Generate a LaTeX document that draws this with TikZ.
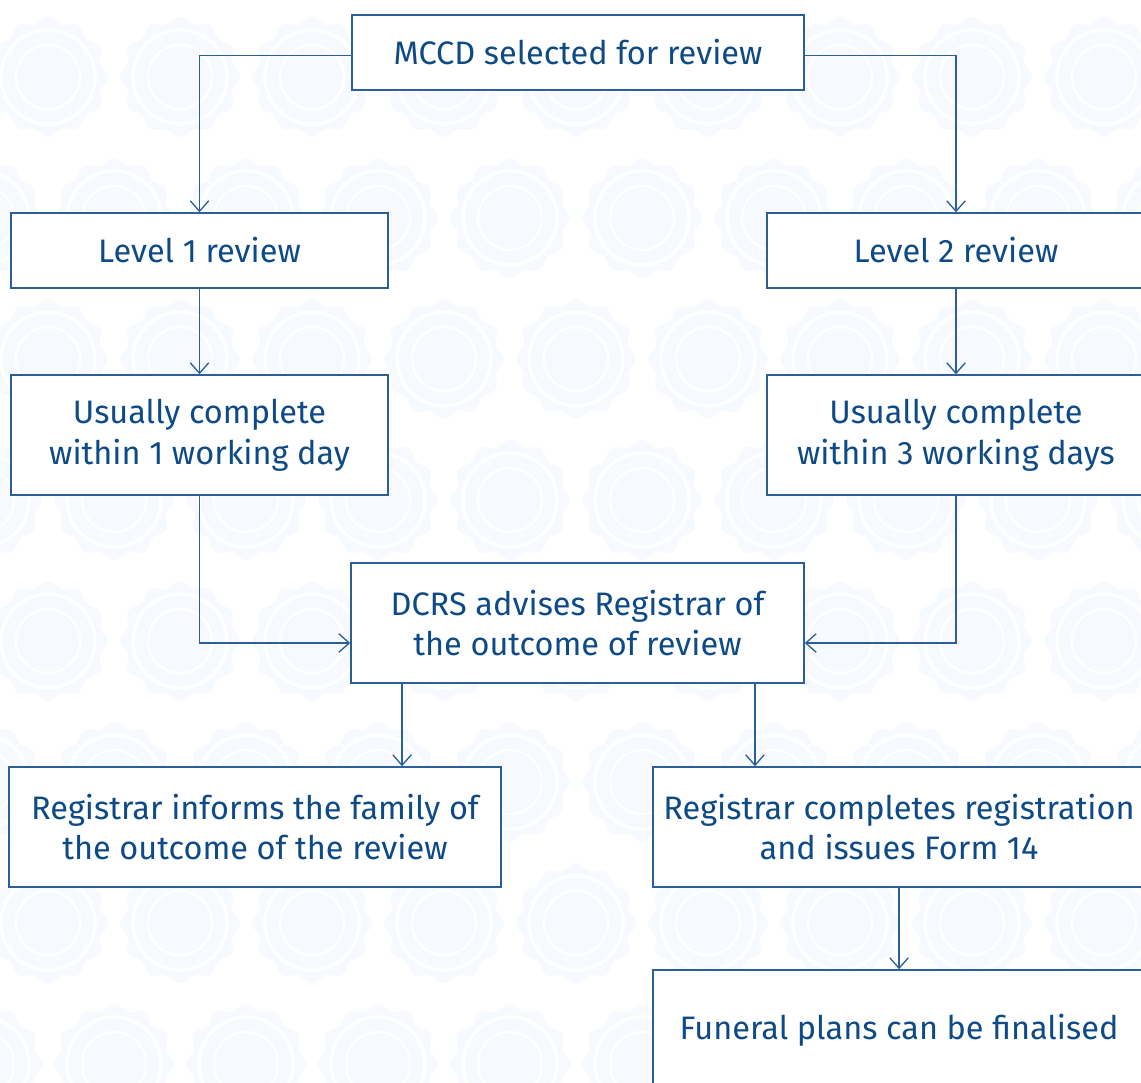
\documentclass[tikz,border=0pt]{standalone}
\usepackage{fontspec}
\setmainfont{Fira Sans}
\usepackage{xcolor}
\usepackage{tikz}
\usetikzlibrary{arrows.meta}
\definecolor{textblue}{HTML}{0E4A86}
\definecolor{lineblue}{HTML}{2B5F97}
\definecolor{rosefill}{HTML}{F6FAFE}
\tikzstyle{stepbox} = [rectangle, draw=lineblue, line width=0.85pt, fill=white, text=textblue, align=center, inner sep=0pt, font=\fontsize{18.5}{23.3}\selectfont]
\tikzstyle{arrow} = [draw=lineblue, line width=0.75pt, -{Straight Barb[length=0.21cm, width=0.37cm]}]
\tikzset{rosette/.pic={
  \fill[rosefill] plot[smooth cycle, domain=0:357, samples=120] (\x:{57+3*cos(12*\x)});
  \draw[white, line width=1.9pt] (0,0) circle (47);
  \draw[white, line width=1.4pt] (0,0) circle (32);
}}

\begin{document}
\begin{tikzpicture}[x=0.02cm, y=-0.02cm]
	\useasboundingbox (0,0) rectangle (1141,1082);
	\clip (0,0) rectangle (1141,1082);
	% background pattern
	\foreach \row in {0,...,7}{
		\pgfmathsetmacro{\off}{mod(\row,2)==0 ? 48 : 114}
		\foreach \col in {-1,...,9}{
			\pic at ({\off+132*\col},{77+141*\row}) {rosette};
		}
	}
	
	\node (mccd) [stepbox, minimum width=9.04cm, minimum height=1.5cm] at (578,52.5) {MCCD selected for review};
	\node (level1) [stepbox, minimum width=7.54cm, minimum height=1.5cm] at (199.5,250.5) {Level 1 review};
	\node (level2) [stepbox, minimum width=7.56cm, minimum height=1.5cm] at (956,250.5) {Level 2 review};
	\node (usual1) [stepbox, minimum width=7.54cm, minimum height=2.4cm] at (199.5,435) {Usually complete\\within 1 working day};
	\node (usual3) [stepbox, minimum width=7.56cm, minimum height=2.4cm] at (956,435) {Usually complete\\within 3 working days};
	\node (dcrs) [stepbox, minimum width=9.06cm, minimum height=2.4cm] at (577.5,623) {DCRS advises Registrar of\\the outcome of review};
	\node (inform) [stepbox, minimum width=9.84cm, minimum height=2.4cm] at (255,827) {Registrar informs the family of\\the outcome of the review};
	\node (regist) [stepbox, minimum width=9.84cm, minimum height=2.4cm] at (899,827) {Registrar completes registration\\and issues Form 14};
	\node (funeral) [stepbox, minimum width=9.84cm, minimum height=2.4cm] at (899,1030) {Funeral plans can be finalised};
	
	\draw [arrow] ([yshift=-0.06cm]mccd.west) -| (level1.north);
	\draw [arrow] ([yshift=-0.06cm]mccd.east) -| (level2.north);
	\draw [arrow] (level1) -- (usual1);
	\draw [arrow] (level2) -- (usual3);
	\draw [arrow] (usual1.south) |- ([yshift=-0.4cm]dcrs.west);
	\draw [arrow] (usual3.south) |- ([yshift=-0.4cm]dcrs.east);
	\draw [arrow] ([xshift=-3.51cm]dcrs.south) -- ([xshift=-3.51cm]dcrs.south |- inform.north);
	\draw [arrow] ([xshift=3.55cm]dcrs.south) -- ([xshift=3.55cm]dcrs.south |- regist.north);
	\draw [arrow] (regist) -- (funeral);
\end{tikzpicture}
\end{document}
